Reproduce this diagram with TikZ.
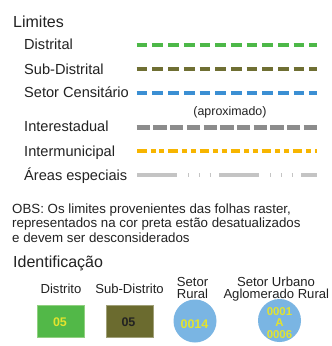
\documentclass[tikz,border=0pt]{standalone}
\usepackage{fontspec}
\setmainfont{Liberation Sans}
\definecolor{txt}{HTML}{222222}
\definecolor{cgreen}{HTML}{4DB848}
\definecolor{colive}{HTML}{6F6F33}
\definecolor{cblue}{HTML}{3B8FD3}
\definecolor{cgray}{HTML}{8C8C8C}
\definecolor{corange}{HTML}{F7B500}
\definecolor{clight}{HTML}{C4C4C4}
\definecolor{boxgreen}{HTML}{52B848}
\definecolor{boxgreenb}{HTML}{90D080}
\definecolor{boxolive}{HTML}{6B6B2F}
\definecolor{boxoliveb}{HTML}{A0A078}
\definecolor{circblue}{HTML}{7AB5E3}
\definecolor{cyellow}{HTML}{E3E32E}
\begin{document}
\begin{tikzpicture}[x=1pt,y=-1pt,
  head/.style={anchor=base west,inner sep=0pt,text=txt,font=\fontsize{16}{19}\selectfont},
  item/.style={anchor=base west,inner sep=0pt,text=txt,font=\fontsize{14.6}{17}\selectfont},
  obs/.style={anchor=base west,inner sep=0pt,text=txt,font=\fontsize{13.3}{15}\selectfont},
  lbl/.style={anchor=base,inner sep=0pt,text=txt,font=\fontsize{13.1}{15}\selectfont},
  lim/.style={line width=4.6pt},
  idbox/.style={draw,line width=0.8pt,minimum width=47pt,minimum height=32pt,inner sep=0pt},
  idcirc/.style={circle,fill=circblue,minimum size=43pt,inner sep=0pt},
  num/.style={inner sep=0pt,font=\bfseries\fontsize{12.5}{13}\selectfont}
]
\useasboundingbox (0,0) rectangle (332,346);
\fill[white] (0,0) rectangle (332,346);

% Limites
\node[head] (tlim) at (13,27.3) {Limites};
\node[item] (t1) at (24,49.6) {Distrital};
\node[item] (t2) at (24,74) {Sub-Distrital};
\node[item] (t3) at (24,97.6) {Setor Censitário};
\node[inner sep=0pt,text=txt,font=\fontsize{12.4}{14}\selectfont] (aprox) at (230,112) {(aproximado)};
\node[item] (t4) at (24,131.7) {Interestadual};
\node[item] (t5) at (24,156) {Intermunicipal};
\node[item] (t6) at (24,180) {Áreas especiais};

\coordinate (a1) at (136.7,45);  \coordinate (b1) at (317.3,45);
\coordinate (a2) at (136.7,69);  \coordinate (b2) at (317.3,69);
\coordinate (a3) at (136.7,93);  \coordinate (b3) at (317.3,93);
\coordinate (a4) at (136.7,127); \coordinate (b4) at (317.3,127);
\coordinate (a5) at (137.3,151); \coordinate (b5) at (316.5,151);
\coordinate (a6) at (137.3,175); \coordinate (b6) at (317.3,175);

\draw[lim,cgreen,dash pattern=on 10.7pt off 5pt] (a1) -- (b1);
\draw[lim,colive,dash pattern=on 10.7pt off 5pt] (a2) -- (b2);
\draw[lim,cblue,dash pattern=on 10.7pt off 5pt] (a3) -- (b3);
\draw[lim,cgray,line width=5pt,dash pattern=on 13.3pt off 3.4pt] (a4) -- (b4);
\draw[lim,corange,dash pattern=on 9.4pt off 4pt on 5pt off 3.7pt on 5pt off 4pt] (a5) -- (b5);
\draw[lim,clight,dash pattern=on 39.4pt off 11.4pt on 1pt off 9.7pt on 1pt off 9.7pt on 1pt off 8.8pt] (a6) -- (b6);

% OBS
\node[obs] (o1) at (12,213) {OBS: Os limites provenientes das folhas raster,};
\node[obs] (o2) at (12,227.5) {representados na cor preta estão desatualizados};
\node[obs] (o3) at (12,242) {e devem ser desconsiderados};

% Identificacao
\node[head] (tid) at (13,267.3) {Identificação};
\node[lbl] (l1) at (61,293.3) {Distrito};
\node[lbl] (l2) at (129.5,293.3) {Sub-Distrito};
\node[lbl] (l3a) at (192.5,286.2) {Setor};
\node[lbl] (l3b) at (192.5,298.3) {Rural};
\node[lbl] (l4a) at (276,286.2) {Setor Urbano};
\node[lbl] (l4b) at (276.3,298.3) {Aglomerado Rural};

\node[idbox,fill=boxgreen,draw=boxgreenb] (bx1) at (61,321.7) {};
\node[num,text=cyellow] (n1) at (60,321.7) {05};
\node[idbox,fill=boxolive,draw=boxoliveb] (bx2) at (129.5,321.7) {};
\node[num,text=txt] (n2) at (128.5,321.7) {05};

\node[idcirc] (c1) at (195,321) {};
\node[num,text=cyellow] (n3) at (194.5,324.2) {0014};
\node[idcirc] (c2) at (279.5,320.5) {};
\node[num,text=cyellow,align=center,font=\bfseries\fontsize{11.4}{11.3}\selectfont] (n4) at (279.5,323) {0001\\A\\0006};
\end{tikzpicture}
\end{document}
